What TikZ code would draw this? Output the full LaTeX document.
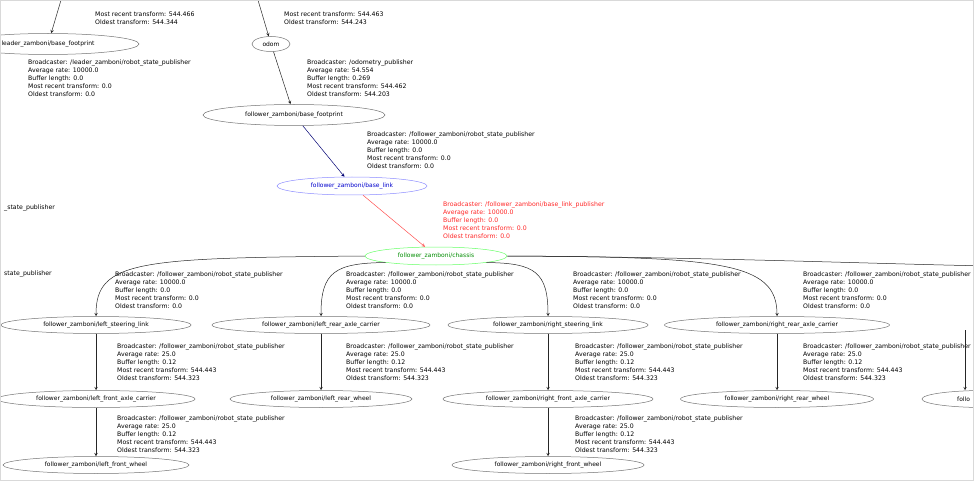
\documentclass[tikz,border=0pt]{standalone}
\usepackage{fontspec}
\setmainfont{DejaVu Sans}
\usetikzlibrary{shapes.geometric}
\tikzset{>=stealth}
\tikzset{
  frame/.style={ellipse, draw=black!55, line width=0.5pt, inner sep=0pt, minimum height=17pt, font=\fontsize{6}{8}\selectfont},
  info/.style={anchor=north west, align=left, inner sep=0pt, font=\fontsize{6.2}{8}\selectfont},
  tf/.style={->, black!85, line width=0.5pt},
}
\newcommand{\staticinfo}{Broadcaster: /follower\_zamboni/robot\_state\_publisher\\Average rate: 10000.0\\Buffer length: 0.0\\Most recent transform: 0.0\\Oldest transform: 0.0}
\newcommand{\jointinfo}{Broadcaster: /follower\_zamboni/robot\_state\_publisher\\Average rate: 25.0\\Buffer length: 0.12\\Most recent transform: 544.443\\Oldest transform: 544.323}

\begin{document}
\begin{tikzpicture}[x=1pt, y=-1pt]
\useasboundingbox (0,0) rectangle (974,481);
\clip (0,0) rectangle (974,481);
\node[frame, minimum width=182pt, minimum height=21pt] (lbf) at (48,44) {leader\_zamboni/base\_footprint};
\node[frame, minimum width=38pt, minimum height=15pt] (odom) at (271,44) {odom};
\node[frame, minimum width=182pt, minimum height=21pt] (fbf) at (294,115) {follower\_zamboni/base\_footprint};
\node[frame, draw=blue!45, text=blue!80!black, minimum width=150pt, minimum height=18pt] (blink) at (352,186) {follower\_zamboni/base\_link};
\node[frame, draw=green!60, text=green!55!black, minimum width=142pt, minimum height=18pt] (chassis) at (436,256) {follower\_zamboni/chassis};
\node[frame, minimum width=190pt] (lsl) at (96,325) {follower\_zamboni/left\_steering\_link};
\node[frame, minimum width=218pt] (lrac) at (321,325) {follower\_zamboni/left\_rear\_axle\_carrier};
\node[frame, minimum width=200pt] (rsl) at (548,325) {follower\_zamboni/right\_steering\_link};
\node[frame, minimum width=225pt] (rrac) at (777,325) {follower\_zamboni/right\_rear\_axle\_carrier};
\node[frame, minimum width=198pt] (lfac) at (96,399) {follower\_zamboni/left\_front\_axle\_carrier};
\node[frame, minimum width=182pt] (lrw) at (321,399) {follower\_zamboni/left\_rear\_wheel};
\node[frame, minimum width=210pt] (rfac) at (548,399) {follower\_zamboni/right\_front\_axle\_carrier};
\node[frame, minimum width=193pt] (rrw) at (777,399) {follower\_zamboni/right\_rear\_wheel};
\node[frame, minimum width=124pt] (rx) at (984,399) {};
\node[info, anchor=west, font=\fontsize{6}{8}\selectfont] (rxtext) at (957,399) {follo};
\node[frame, minimum width=186pt] (lfw) at (96,465) {follower\_zamboni/left\_front\_wheel};
\node[frame, minimum width=192pt] (rfw) at (548,465) {follower\_zamboni/right\_front\_wheel};
\coordinate (lbfin) at (64,-10);
\coordinate (odomin) at (255,-10);
\coordinate (offr) at (990,266);
\coordinate (rxin) at (965,330);
\node[info] (lbftop) at (95,12) {Most recent transform: 544.466\\Oldest transform: 544.344};
\node[info] (odomtop) at (284,12) {Most recent transform: 544.463\\Oldest transform: 544.243};
\node[info] (lbfinfo) at (28,60) {Broadcaster: /leader\_zamboni/robot\_state\_publisher\\Average rate: 10000.0\\Buffer length: 0.0\\Most recent transform: 0.0\\Oldest transform: 0.0};
\node[info] (odominfo) at (307,60) {Broadcaster: /odometry\_publisher\\Average rate: 54.554\\Buffer length: 0.269\\Most recent transform: 544.462\\Oldest transform: 544.203};
\node[info] (fbfinfo) at (367,132) {\staticinfo};
\node[info, text=red!85] (blinkinfo) at (443,202) {Broadcaster: /follower\_zamboni/base\_link\_publisher\\Average rate: 10000.0\\Buffer length: 0.0\\Most recent transform: 0.0\\Oldest transform: 0.0};
\node[info] (cutA) at (4,205) {\_state\_publisher};
\node[info] (cutB) at (4,271) {state\_publisher};
\node[info] (lslinfo) at (115,272) {\staticinfo};
\node[info] (lracinfo) at (346,272) {\staticinfo};
\node[info] (rslinfo) at (573,272) {\staticinfo};
\node[info] (rracinfo) at (803,272) {\staticinfo};
\node[info] (lfacinfo) at (117,344) {\jointinfo};
\node[info] (lrwinfo) at (346,344) {\jointinfo};
\node[info] (rfacinfo) at (575,344) {\jointinfo};
\node[info] (rrwinfo) at (803,344) {\jointinfo};
\node[info] (lfwinfo) at (117,416) {\jointinfo};
\node[info] (rfwinfo) at (575,416) {\jointinfo};
\draw[tf] (lbfin) -- (lbf);
\draw[tf] (odomin) -- (odom);
\draw[tf] (odom) -- (fbf);
\draw[tf, blue!45!black] (fbf) -- (blink);
\draw[tf, red!70] (blink) -- (chassis);
\draw[tf] (chassis.west) .. controls (140,258) and (96,260) .. (lsl.north);
\draw[tf] (chassis.south west) .. controls (335,263) and (321,272) .. (lrac.north);
\draw[tf] (chassis.south east) .. controls (535,263) and (548,272) .. (rsl.north);
\draw[tf] (chassis.east) .. controls (720,257) and (777,262) .. (rrac.north);
\draw[tf] (chassis.east) .. controls (700,257) and (880,264) .. (offr);
\draw[tf] (lsl) -- (lfac);
\draw[tf] (lrac) -- (lrw);
\draw[tf] (rsl) -- (rfac);
\draw[tf] (rrac) -- (rrw);
\draw[tf] (rxin) -- (rxin |- rx.north);
\draw[tf] (lfac) -- (lfw);
\draw[tf] (rfac) -- (rfw);
\draw[gray!30, line width=1.5pt] (0,0) rectangle (974,481);
\end{tikzpicture}
\end{document}
